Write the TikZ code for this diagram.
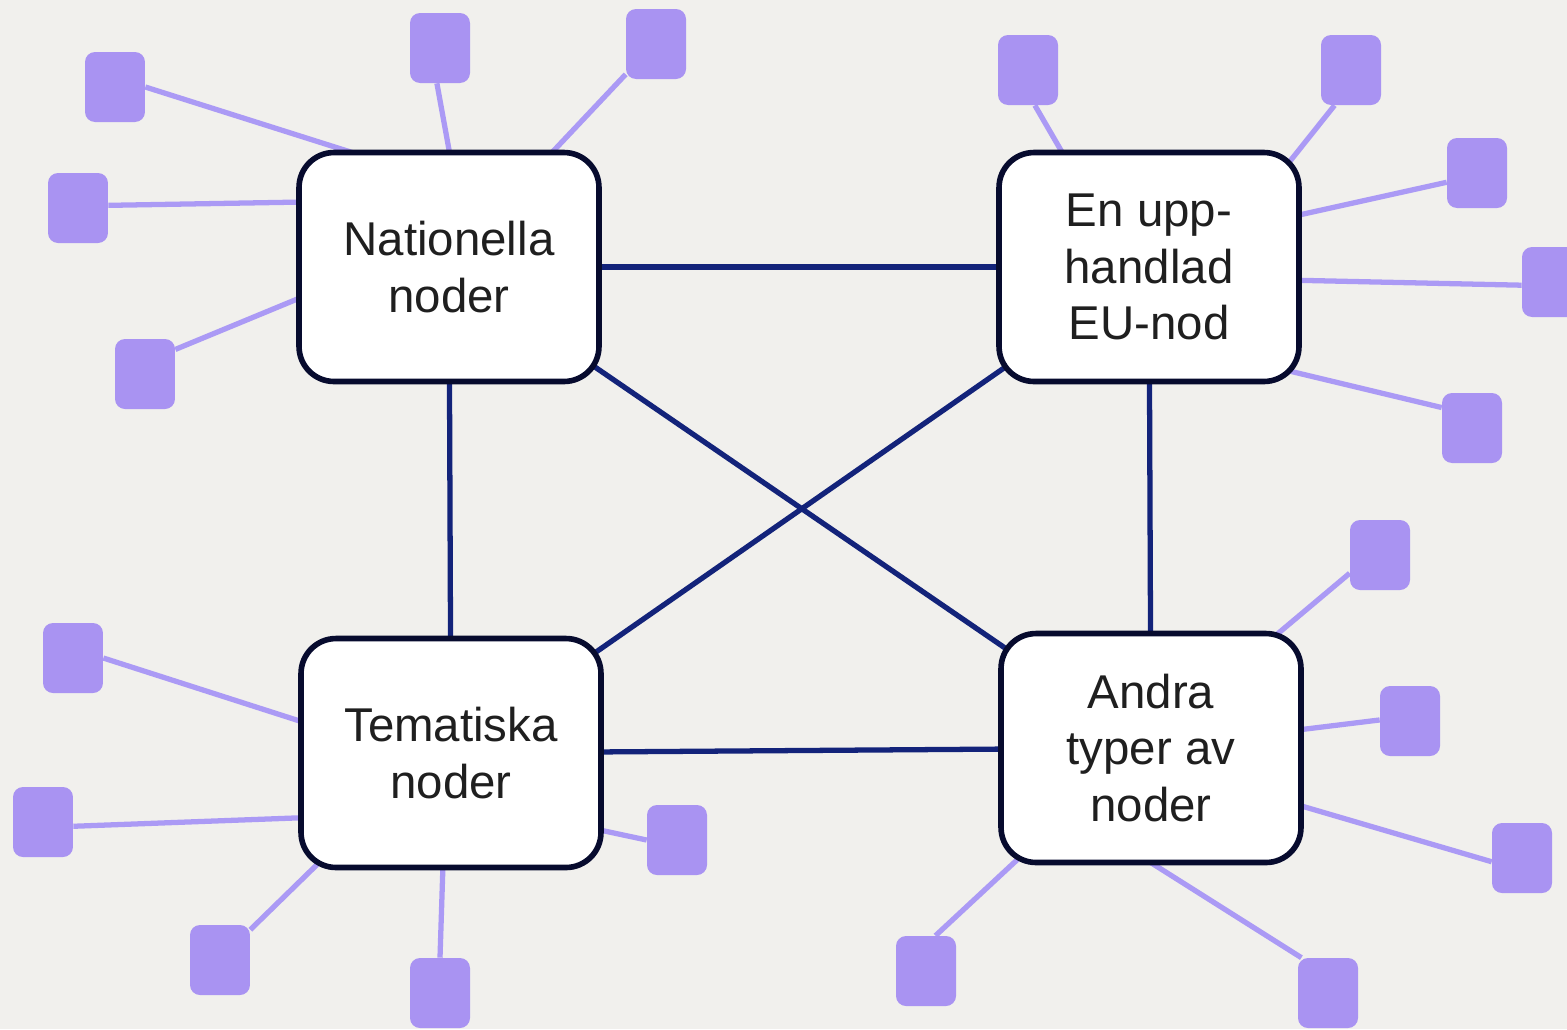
\documentclass[tikz,border=0pt]{standalone}
\usepackage{fontspec}
\setmainfont{Liberation Sans}
\usetikzlibrary{backgrounds}

\definecolor{bgc}{HTML}{F1F0ED}
\definecolor{navyline}{HTML}{13237A}
\definecolor{boxline}{HTML}{070B2E}
\definecolor{lilac}{HTML}{A993F2}
\definecolor{lilacline}{HTML}{AB9AF5}

\tikzset{
  hub/.style={draw=boxline, line width=3.2pt, fill=white, rounded corners=0.7cm,
    minimum width=6.0cm, minimum height=4.58cm, align=center,
    font=\fontsize{27}{32}\selectfont, text=black!88},
  leaf/.style={fill=lilac, rounded corners=0.2cm, minimum width=1.2cm,
    minimum height=1.4cm, inner sep=0pt},
  link/.style={draw=navyline, line width=3pt},
  spoke/.style={draw=lilacline, line width=3pt, shorten <=-0.3cm}
}

\begin{document}
\begin{tikzpicture}[x=0.02cm,y=-0.02cm]
	\useasboundingbox (0,0) rectangle (1567,1029);
	\begin{pgfonlayer}{background}
		\fill[bgc] (0,0) rectangle (1567,1029);
	\end{pgfonlayer}

	% the four main boxes
	\node[hub] (nat) at (449,267) {Nationella\\noder};
	\node[hub] (eu) at (1149,267) {En upp-\\handlad\\EU-nod};
	\node[hub] (tem) at (451,753) {Tematiska\\noder};
	\node[hub] (andra) at (1151,748) {Andra\\typer av\\noder};

	% small nodes
	\foreach \n/\x/\y in {n1/115/87, n2/440/48, n3/656/44, n4/78/208, n5/145/374,
		e1/1028/70, e2/1351/70, e3/1477/173, e4/1552/282, e5/1472/428,
		t1/73/658, t2/43/822, t3/220/960, t4/440/993, t5/677/840,
		a1/1380/555, a2/1410/721, a3/1522/858, a4/926/971, a5/1328/993}
		\node[leaf] (\n) at (\x,\y) {};

	\begin{pgfonlayer}{background}
		\foreach \a/\n/\b in {132/n1/0, 90/n2/265, 48/n3/225, 157/n4/5, 192/n5/39}
			\draw[spoke] (nat.\a) -- (\n.\b);
		\foreach \a/\n/\b in {127/e1/281, 38/e2/245, 19/e3/197, 355/e4/186, 325/e5/146}
			\draw[spoke] (eu.\a) -- (\n.\b);
		\foreach \a/\n/\b in {168/t1/0, 203/t2/352, 220/t3/45, 266/t4/90, 333/t5/180}
			\draw[spoke] (tem.\a) -- (\n.\b);
		\foreach \a/\n/\b in {42/a1/211, 7/a2/178, 339/a3/187, 220/a4/75, 272/a5/127}
			\draw[spoke] (andra.\a) -- (\n.\b);

		\draw[link] (nat.center) -- (eu.center);
		\draw[link] (nat.center) -- (tem.center);
		\draw[link] (nat.center) -- (andra.center);
		\draw[link] (eu.center) -- (tem.center);
		\draw[link] (eu.center) -- (andra.center);
		\draw[link] (tem.center) -- (andra.center);
	\end{pgfonlayer}
\end{tikzpicture}
\end{document}
